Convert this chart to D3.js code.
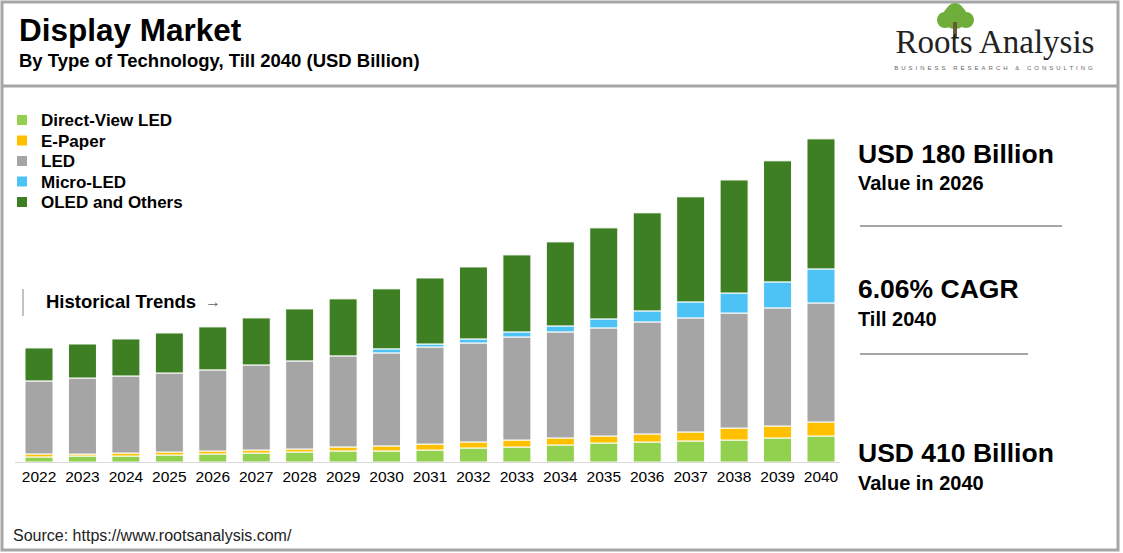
<!DOCTYPE html>
<html>
<head>
<meta charset="utf-8">
<script src="https://d3js.org/d3.v7.min.js"></script>
<style>
  body { margin: 0; background: #fff; }
  text { font-family: Arial, "Liberation Sans", sans-serif; }
</style>
</head>
<body>
<div id="chart"></div>
<script>
  // data (USD Billion)
  let years = ["2022","2023","2024","2025","2026","2027","2028","2029","2030","2031",
               "2032","2033","2034","2035","2036","2037","2038","2039","2040"];
  let directView = [6.4,7.6,7.6,8.9,10.2,11.4,12.7,14,14,15.2,17.8,19,21.6,24.1,25.4,26.7,27.9,30.5,33];
  let ePaper = [3.8,2.5,3.8,3.8,3.8,3.8,3.8,5.1,6.4,7.6,7.6,8.9,8.9,8.9,10.2,11.4,15.2,15.2,17.8];
  let led = [92.7,96.5,97.8,100.3,102.9,108,111.8,115.6,118.1,123.2,125.7,130.8,134.6,137.2,142.2,144.8,146,149.9,151.1];
  let microLed = [0,0,0,0,0,0,0,0,5.1,3.8,5.1,6.4,7.6,11.4,14,20.3,25.4,33,43.2];
  let oled = [41.9,43.2,47,50.8,54.6,59.7,66,72.4,76.2,83.8,91.4,97.8,106.7,115.6,124.5,133.4,143.5,153.7,165.1];

  let seriesNames = ["Direct-View LED","E-Paper","LED","Micro-LED","OLED and Others"];
  let colors = ["#92d050","#ffc000","#a5a5a5","#4dc3f5","#3f7f24"];

  let width = 1123, height = 553;
  let svg = d3.select("#chart").append("svg")
    .attr("width", width).attr("height", height);

  // frame
  svg.append("rect").attr("x", 2).attr("y", 2).attr("width", 1116).attr("height", 548)
    .style("fill", "none").style("stroke", "#a6a6a6").style("stroke-width", 3);
  svg.append("line").attr("x1", 2).attr("x2", 1118).attr("y1", 86).attr("y2", 86)
    .style("stroke", "#a6a6a6").style("stroke-width", 3);

  // titles
  svg.append("text").attr("x", 19).attr("y", 41).text("Display Market")
    .style("font-size", "31.5px").style("font-weight", "bold");
  svg.append("text").attr("x", 19).attr("y", 67).text("By Type of Technology, Till 2040 (USD Billion)")
    .style("font-size", "18.5px").style("font-weight", "bold");

  // logo
  let logo = svg.append("g");
  [[955,17,12],[945,20,8],[966,20,8],[955,12,9]].forEach(function(c){
    logo.append("circle").attr("cx", c[0]).attr("cy", c[1]).attr("r", c[2]).style("fill", "#6fae3a");
  });
  logo.append("rect").attr("x", 953).attr("y", 22).attr("width", 4).attr("height", 16).style("fill", "#6b5a3a");
  logo.append("text").attr("x", 995).attr("y", 53).attr("text-anchor", "middle").text("Roots Analysis")
    .style("font-family", "'Liberation Serif', 'DejaVu Serif', serif").style("font-size", "33px").style("fill", "#222");
  logo.append("text").attr("x", 995).attr("y", 70).attr("text-anchor", "middle").text("BUSINESS RESEARCH & CONSULTING")
    .style("font-size", "6px").style("letter-spacing", "3px").style("fill", "#666");

  // stacked data
  let table = years.map(function(y, i){
    return {year: y, "Direct-View LED": directView[i], "E-Paper": ePaper[i], "LED": led[i],
            "Micro-LED": microLed[i], "OLED and Others": oled[i]};
  });
  let stack = d3.stack().keys(seriesNames)(table);

  let x = d3.scaleBand().domain(years).range([25, 835]).paddingInner(0.355).paddingOuter(0);
  let y = d3.scaleLinear().domain([0, 410]).range([462, 139]);

  svg.append("g").selectAll("g").data(stack).enter().append("g")
    .style("fill", function(d, i){ return colors[i]; })
    .selectAll("rect").data(function(d){ return d; }).enter().append("rect")
      .attr("x", function(d){ return x(d.data.year); })
      .attr("width", x.bandwidth())
      .attr("y", function(d){ return y(d[1]); })
      .attr("height", function(d){ return Math.max(0, y(d[0]) - y(d[1])); })
      .style("stroke", "#fff").style("stroke-width", 1);

  // axis
  let xAxis = svg.append("g").attr("transform", "translate(0,462)")
    .call(d3.axisBottom(x).tickSize(0).tickPadding(9));
  xAxis.select(".domain").remove();
  svg.append("line").attr("x1", 15).attr("x2", 840).attr("y1", 462.5).attr("y2", 462.5)
    .style("stroke", "#d9d9d9");
  xAxis.selectAll("text").style("font-size", "15.5px").style("fill", "#000")
    .style("font-family", "Arial, 'Liberation Sans', sans-serif");

  // legend
  let legend = svg.append("g").selectAll("g").data(seriesNames).enter().append("g")
    .attr("transform", function(d, i){ return "translate(17," + (115 + i * 20.5) + ")"; });
  legend.append("rect").attr("width", 10).attr("height", 10)
    .style("fill", function(d, i){ return colors[i]; });
  legend.append("text").attr("x", 24).attr("y", 11).text(function(d){ return d; })
    .style("font-size", "17px").style("font-weight", "bold");

  // historical trends
  svg.append("line").attr("x1", 23).attr("x2", 23).attr("y1", 289).attr("y2", 316).style("stroke", "#888");
  svg.append("text").attr("x", 46).attr("y", 308).text("Historical Trends")
    .style("font-size", "18.5px").style("font-weight", "bold");
  svg.append("text").attr("x", 205).attr("y", 307).text("\u2192")
    .style("font-size", "16px").style("fill", "#666");

  // right annotations
  let notes = [["USD 180 Billion", 163, 26.5], ["Value in 2026", 190, 20],
               ["6.06% CAGR", 298, 26.5], ["Till 2040", 326, 20],
               ["USD 410 Billion", 462, 26.5], ["Value in 2040", 490, 20]];
  svg.append("g").selectAll("text").data(notes).enter().append("text")
    .attr("x", 858).attr("y", function(d){ return d[1]; }).text(function(d){ return d[0]; })
    .style("font-size", function(d){ return d[2] + "px"; }).style("font-weight", "bold");
  svg.append("line").attr("x1", 860).attr("x2", 1062).attr("y1", 226).attr("y2", 226).style("stroke", "#a6a6a6").style("stroke-width", 2);
  svg.append("line").attr("x1", 860).attr("x2", 1028).attr("y1", 354).attr("y2", 354).style("stroke", "#a6a6a6").style("stroke-width", 2);

  // source
  svg.append("text").attr("x", 13).attr("y", 541).text("Source: https://www.rootsanalysis.com/")
    .style("font-size", "16px").style("fill", "#222");
</script>
</body>
</html>
